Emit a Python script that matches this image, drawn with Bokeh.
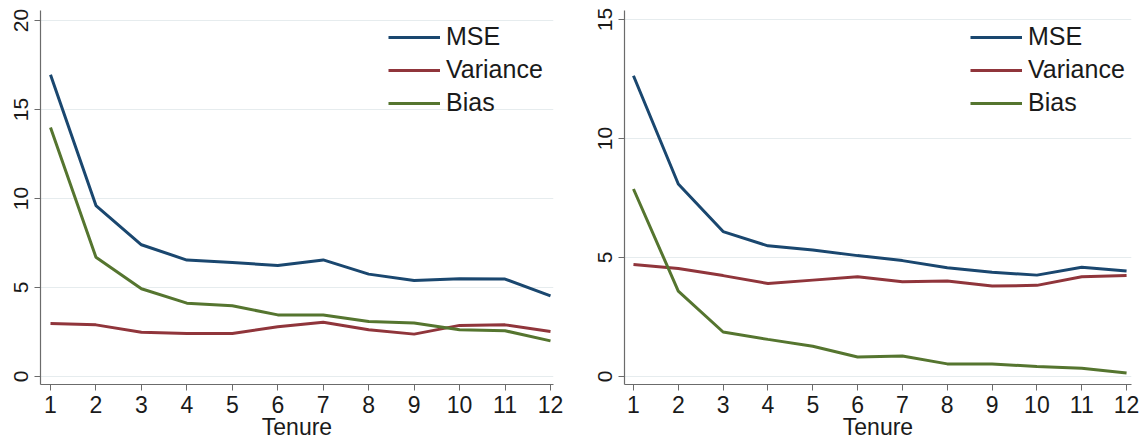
from bokeh.plotting import figure
from bokeh.layouts import row
from bokeh.models import Legend, LegendItem, FixedTicker, Range1d
from bokeh.embed import file_html
from bokeh.resources import INLINE

tenure = [1, 2, 3, 4, 5, 6, 7, 8, 9, 10, 11, 12]

left_mse = [16.95, 9.6, 7.4, 6.54, 6.4, 6.24, 6.55, 5.75, 5.39, 5.49, 5.47, 4.53]
left_variance = [2.98, 2.9, 2.49, 2.42, 2.42, 2.79, 3.05, 2.62, 2.38, 2.87, 2.9, 2.53]
left_bias = [13.99, 6.7, 4.93, 4.12, 3.97, 3.46, 3.46, 3.09, 3.0, 2.62, 2.57, 2.0]

right_mse = [12.64, 8.09, 6.09, 5.49, 5.32, 5.08, 4.87, 4.57, 4.38, 4.26, 4.59, 4.43]
right_variance = [4.71, 4.54, 4.24, 3.91, 4.05, 4.19, 3.98, 4.01, 3.8, 3.83, 4.19, 4.24]
right_bias = [7.88, 3.59, 1.87, 1.56, 1.27, 0.82, 0.86, 0.53, 0.53, 0.42, 0.35, 0.15]

left_yticks = [0, 5, 10, 15, 20]
right_yticks = [0, 5, 10, 15]

series_names = ["MSE", "Variance", "Bias"]
series_colors = ["#1a476f", "#90353b", "#55752f"]
x_title = "Tenure"

FONT = "Liberation Sans"


def make_panel(width, border_left, border_right, xr, yr, yticks, series, legend_x):
    p = figure(width=width, height=447, x_range=Range1d(*xr), y_range=Range1d(*yr),
               output_backend="svg", toolbar_location=None,
               min_border_left=border_left, min_border_right=border_right,
               min_border_top=10, min_border_bottom=63)
    p.outline_line_color = None
    p.background_fill_color = "white"
    p.border_fill_color = "white"
    p.xgrid.grid_line_color = None
    p.ygrid.grid_line_color = "#e6ecee"
    p.ygrid.grid_line_width = 1
    p.ygrid.ticker = FixedTicker(ticks=yticks)

    p.xaxis.ticker = FixedTicker(ticks=tenure)
    p.yaxis.ticker = FixedTicker(ticks=yticks)
    for ax in (p.xaxis, p.yaxis):
        ax.axis_line_color = "#6b6b6b"
        ax.axis_line_width = 1.2
        ax.major_tick_line_color = "#6b6b6b"
        ax.major_tick_in = 0
        ax.major_tick_out = 6
        ax.minor_tick_line_color = None
        ax.major_label_text_font = FONT
        ax.major_label_text_color = "#1a1a1a"
    p.xaxis.major_label_text_font_size = "23px"
    p.xaxis.major_label_standoff = 5
    p.yaxis.major_label_text_font_size = "21px"
    p.yaxis.major_label_orientation = "vertical"
    p.yaxis.major_label_standoff = 6

    p.xaxis.axis_label = x_title
    p.xaxis.axis_label_text_font = FONT
    p.xaxis.axis_label_text_font_size = "23px"
    p.xaxis.axis_label_text_font_style = "normal"
    p.xaxis.axis_label_text_color = "#1a1a1a"
    p.xaxis.axis_label_standoff = -2

    items = []
    for name, color, vals in zip(series_names, series_colors, series):
        r = p.line(tenure, vals, line_color=color, line_width=3)
        items.append(LegendItem(label=name, renderers=[r]))

    legend = Legend(items=items, location=(legend_x, 267))
    legend.border_line_color = None
    legend.background_fill_alpha = 0
    legend.label_text_font = FONT
    legend.label_text_font_size = "25px"
    legend.label_text_color = "#1a1a1a"
    legend.glyph_width = 52
    legend.glyph_height = 28
    legend.label_height = 28
    legend.spacing = 4
    legend.padding = 0
    legend.margin = 0
    legend.label_standoff = 6
    p.add_layout(legend)
    return p


left = make_panel(570, 40, 17, (0.78, 12.066), (-0.45, 20.56), left_yticks,
                  [left_mse, left_variance, left_bias], 348)
right = make_panel(573, 54, 12, (0.8, 12.11), (-0.336, 15.38), right_yticks,
                   [right_mse, right_variance, right_bias], 346)

layout = row(left, right, spacing=0)
open("out.html", "w").write(file_html(layout, INLINE))
